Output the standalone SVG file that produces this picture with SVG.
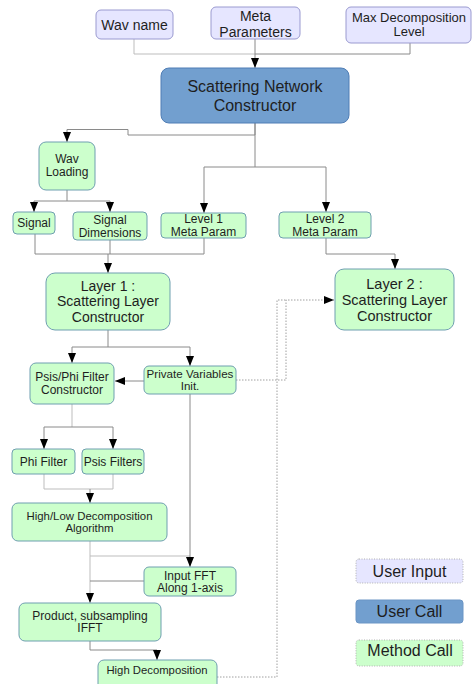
<svg xmlns="http://www.w3.org/2000/svg" width="472" height="684" viewBox="0 0 472 684">
<style>
text{font-family:"Liberation Sans",Arial,sans-serif;fill:#1e1e1e;text-anchor:middle}
.in{fill:#e6e6ff;stroke:#9a9ad0;stroke-width:1}
.uc{fill:#729fcf;stroke:#4f7db5;stroke-width:1}
.mc{fill:#ccffcc;stroke:#6f9fb0;stroke-width:1}
.c{fill:none;stroke:#8a8a8a;stroke-width:1}
.cl{fill:none;stroke:#bdbdbd;stroke-width:1}
.d{fill:none;stroke:#a0a0a0;stroke-width:1;stroke-dasharray:1.5,1.5}
.lg{stroke:#b0b0b0;stroke-dasharray:1,1.5}
</style>
<defs>
<marker id="a" markerUnits="userSpaceOnUse" markerWidth="11" markerHeight="9" refX="10" refY="4" orient="auto" viewBox="0 0 11 9">
<path d="M0,0 L10,4 L0,8 z" fill="#000"/>
</marker>
</defs>

<g id="connectors">
<path class="cl" d="M134,39 V54 H255"/>
<path class="c" d="M410,43 V54 H255"/>
<path class="c" d="M255,39 V68" marker-end="url(#a)"/>
<path class="c" d="M255,123 V135 H128 V129.5 H67 V142" marker-end="url(#a)"/>
<path class="c" d="M255,123 V167 H204 V213" marker-end="url(#a)"/>
<path class="c" d="M255,167 H326 V212" marker-end="url(#a)"/>
<path class="c" d="M67,190 V201 H34 V212" marker-end="url(#a)"/>
<path class="c" d="M67,201 H110 V212" marker-end="url(#a)"/>
<path class="c" d="M35,234 V254 H204 V238"/>
<path class="c" d="M110,240 V254"/>
<path class="c" d="M108,254 V273" marker-end="url(#a)"/>
<path class="c" d="M326,238 V254 H395 V269" marker-end="url(#a)"/>
<path class="c" d="M108,330 V347 H72 V363" marker-end="url(#a)"/>
<path class="c" d="M108,347 H190 V366" marker-end="url(#a)"/>
<path class="c" d="M144,381 H115" marker-end="url(#a)"/>
<path class="d" d="M236,380 H286 V300 H334" marker-end="url(#a)"/>
<path class="d" d="M217,677 H277 V300 H286"/>
<path class="cl" d="M72,404 V427"/>
<path class="c" d="M72,427 H44 V449" marker-end="url(#a)"/>
<path class="c" d="M72,427 H113 V449" marker-end="url(#a)"/>
<path class="cl" d="M44,474 V489 H113 V474"/>
<path class="c" d="M90,489 V503" marker-end="url(#a)"/>
<path class="cl" d="M90,541 V603" marker-end="url(#a)"/>
<path class="cl" d="M90,556 H190"/>
<path class="c" d="M190,394 V567" marker-end="url(#a)"/>
<path class="c" d="M144,581 H90"/>
<path class="c" d="M90,641 V650 H157 V660" marker-end="url(#a)"/>
</g>

<g id="wav-name"><rect class="in" x="96" y="10" width="77" height="29" rx="5"/><text x="134.5" y="29.5" font-size="14">Wav name</text></g>
<g id="meta-parameters"><rect class="in" x="211" y="7" width="89" height="32" rx="5"/><text x="255.5" y="21" font-size="14">Meta</text><text x="255.5" y="36.5" font-size="14">Parameters</text></g>
<g id="max-decomposition"><rect class="in" x="346" y="7" width="125" height="36" rx="5"/><text x="409" y="22" font-size="13">Max Decomposition</text><text x="409" y="36" font-size="13">Level</text></g>
<g id="scattering-network"><rect class="uc" x="161" y="68" width="188" height="55" rx="8"/><text x="255" y="92" font-size="16">Scattering Network</text><text x="255" y="111" font-size="16">Constructor</text></g>

<g id="wav-loading"><rect class="mc" x="39" y="142" width="56" height="48" rx="7"/><text x="67" y="163" font-size="12">Wav</text><text x="67" y="176" font-size="12">Loading</text></g>
<g id="signal"><rect class="mc" x="13" y="212" width="42" height="22" rx="4"/><text x="34" y="226.5" font-size="12">Signal</text></g>
<g id="signal-dimensions"><rect class="mc" x="73" y="212" width="74" height="28" rx="4"/><text x="110" y="224" font-size="12">Signal</text><text x="110" y="237" font-size="12">Dimensions</text></g>
<g id="level1-meta"><rect class="mc" x="161" y="213" width="85" height="25" rx="4"/><text x="203.5" y="222.5" font-size="12">Level 1</text><text x="203.5" y="236" font-size="12">Meta Param</text></g>
<g id="level2-meta"><rect class="mc" x="279" y="212" width="92" height="26" rx="4"/><text x="325" y="222.5" font-size="12">Level 2</text><text x="325" y="235.5" font-size="12">Meta Param</text></g>

<g id="layer1"><rect class="mc" x="46" y="273" width="124" height="57" rx="9"/><text x="108" y="291" font-size="14">Layer 1 :</text><text x="108" y="306" font-size="14">Scattering Layer</text><text x="108" y="321.5" font-size="14">Constructor</text></g>
<g id="layer2"><rect class="mc" x="335" y="269" width="119" height="61" rx="9"/><text x="394.5" y="288.5" font-size="14.5">Layer 2 :</text><text x="394.5" y="305" font-size="14.5">Scattering Layer</text><text x="394.5" y="321" font-size="14.5">Constructor</text></g>

<g id="psis-phi-constructor"><rect class="mc" x="30" y="363" width="84" height="41" rx="6"/><text x="72" y="380.5" font-size="12">Psis/Phi Filter</text><text x="72" y="393.5" font-size="12">Constructor</text></g>
<g id="private-variables"><rect class="mc" x="144" y="366" width="92" height="28" rx="5"/><text x="190" y="377.5" font-size="11.6">Private Variables</text><text x="190" y="390" font-size="11.6">Init.</text></g>
<g id="phi-filter"><rect class="mc" x="12" y="449" width="63" height="25" rx="4"/><text x="43.5" y="466" font-size="12">Phi Filter</text></g>
<g id="psis-filters"><rect class="mc" x="82" y="449" width="62" height="25" rx="4"/><text x="113" y="466" font-size="12">Psis Filters</text></g>
<g id="high-low"><rect class="mc" x="12" y="503" width="155" height="38" rx="6"/><text x="89.5" y="520" font-size="11.4">High/Low Decomposition</text><text x="89.5" y="532" font-size="11.4">Algorithm</text></g>
<g id="input-fft"><rect class="mc" x="144" y="567" width="92" height="29" rx="5"/><text x="190" y="579.5" font-size="12">Input FFT</text><text x="190" y="592" font-size="12">Along 1-axis</text></g>
<g id="product"><rect class="mc" x="19" y="603" width="142" height="38" rx="6"/><text x="90" y="619.5" font-size="12">Product, subsampling</text><text x="90" y="632" font-size="12">IFFT</text></g>
<g id="high-decomposition"><rect class="mc" x="98" y="660" width="119" height="34" rx="6"/><text x="157" y="673.5" font-size="11.3">High Decomposition</text></g>

<g id="legend-user-input"><rect class="in lg" x="356" y="559" width="107" height="24" rx="3"/><text x="409.5" y="577" font-size="16">User Input</text></g>
<g id="legend-user-call"><rect class="uc" style="stroke:#6b95c5" x="356" y="600" width="107" height="23" rx="3"/><text x="409.5" y="616.5" font-size="16">User Call</text></g>
<g id="legend-method-call"><rect class="mc lg" x="356" y="640" width="107" height="26" rx="3"/><text x="410" y="655.5" font-size="16">Method Call</text></g>
</svg>
